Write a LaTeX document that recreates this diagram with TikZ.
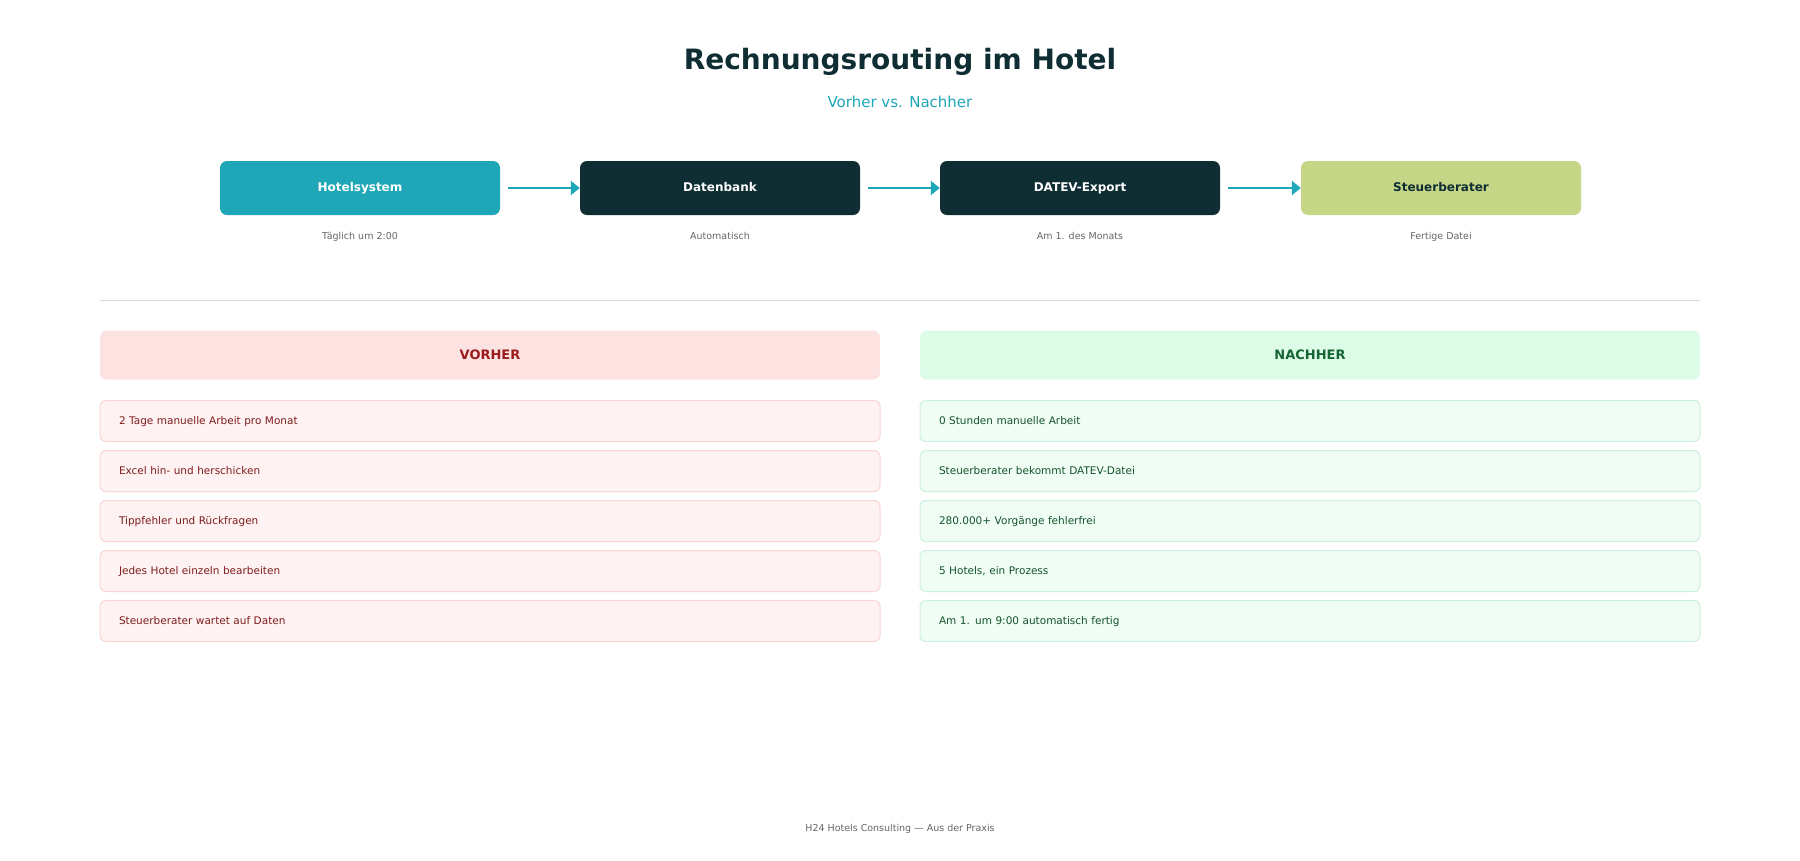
\documentclass[tikz,border=0pt]{standalone}
\usepackage{fontspec}
\setmainfont{DejaVu Sans}
\usetikzlibrary{arrows.meta}
\definecolor{teal}{HTML}{1FA7B8}
\definecolor{darkgreen}{HTML}{0F2E33}
\definecolor{lime}{HTML}{C5D687}
\definecolor{redbg}{HTML}{FDE2E2}
\definecolor{redtxt}{HTML}{9B1C1C}
\definecolor{redrow}{HTML}{FEF2F2}
\definecolor{redline}{HTML}{FBD5D5}
\definecolor{redrowtxt}{HTML}{7F1D1D}
\definecolor{grnbg}{HTML}{DCFCE7}
\definecolor{grntxt}{HTML}{166534}
\definecolor{grnrow}{HTML}{F0FDF4}
\definecolor{grnline}{HTML}{CDEFDD}
\definecolor{grnrowtxt}{HTML}{14532D}
\definecolor{subgray}{HTML}{666666}
\tikzset{
  flowbox/.style={rounded corners=7pt, minimum width=280pt, minimum height=54pt, text height=9pt, text depth=2pt, font=\fontsize{12}{14}\selectfont\bfseries},
  sublabel/.style={font=\fontsize{9.5}{11}\selectfont, text=subgray, text height=7pt, text depth=2pt},
  flowarrow/.style={teal, line width=2.2pt, -{Triangle[length=9pt,width=14pt]}},
  headbox/.style={rounded corners=7pt, minimum width=780pt, minimum height=49pt, font=\fontsize{13}{15}\selectfont\bfseries},
  rowbox/.style={rounded corners=6pt, minimum width=780pt, minimum height=41pt, line width=1pt, text width=742pt, text height=8pt, text depth=2pt, align=left, font=\fontsize{10.5}{12}\selectfont}
}
\begin{document}
\begin{tikzpicture}[x=1pt, y=-1pt]
  \useasboundingbox[fill=white] (0,0) rectangle (1800,860);
  \node[font=\fontsize{28}{32}\selectfont\bfseries, text=darkgreen] (title) at (900,62) {Rechnungsrouting im Hotel};
  \node[font=\fontsize{15}{18}\selectfont, text=teal] (subtitle) at (900,102) {Vorher vs. Nachher};
  % flow
  \node[flowbox, fill=teal, text=white] (hotel) at (360,188) {Hotelsystem};
  \node[flowbox, fill=darkgreen, text=white] (db) at (720,188) {Datenbank};
  \node[flowbox, fill=darkgreen, text=white] (datev) at (1080,188) {DATEV-Export};
  \node[flowbox, fill=lime, text=darkgreen] (stb) at (1441,188) {Steuerberater};
  \node[sublabel] (hotelsub) at (360,237) {Täglich um 2:00};
  \node[sublabel] (dbsub) at (720,237) {Automatisch};
  \node[sublabel] (datevsub) at (1080,237) {Am 1. des Monats};
  \node[sublabel] (stbsub) at (1441,237) {Fertige Datei};
  \draw[flowarrow] ([xshift=8pt]hotel.east) -- (db.west);
  \draw[flowarrow] ([xshift=8pt]db.east) -- (datev.west);
  \draw[flowarrow] ([xshift=8pt]datev.east) -- (stb.west);
  % divider
  \draw[gray!30, line width=1pt] (100,300) -- (1700,300);
  % before / after
  \node[headbox, fill=redbg, text=redtxt] (vorher) at (490,355) {VORHER};
  \node[headbox, fill=grnbg, text=grntxt] (nachher) at (1310,355) {NACHHER};
  \foreach \t [count=\i] in {2 Tage manuelle Arbeit pro Monat, Excel hin- und herschicken, Tippfehler und Rückfragen, Jedes Hotel einzeln bearbeiten, Steuerberater wartet auf Daten}
    \node[rowbox, fill=redrow, draw=redline, text=redrowtxt] (v\i) at (490,371+50*\i) {\t};
  \foreach \t [count=\i] in {0 Stunden manuelle Arbeit, Steuerberater bekommt DATEV-Datei, 280.000+ Vorgänge fehlerfrei, {5 Hotels, ein Prozess}, Am 1. um 9:00 automatisch fertig}
    \node[rowbox, fill=grnrow, draw=grnline, text=grnrowtxt] (n\i) at (1310,371+50*\i) {\t};
  \node[font=\fontsize{9.5}{11}\selectfont, text=subgray] (footer) at (900,829) {H24 Hotels Consulting — Aus der Praxis};
\end{tikzpicture}
\end{document}
